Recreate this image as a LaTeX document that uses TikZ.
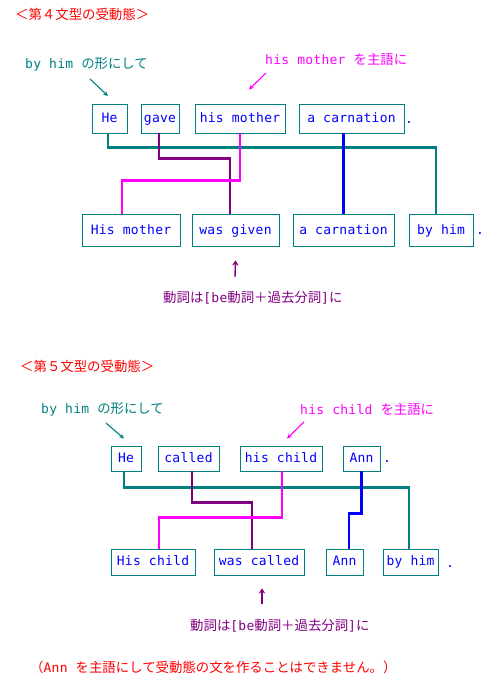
\documentclass[tikz,border=0pt]{standalone}
\usepackage{fontspec}
\usepackage{tikz}
\usetikzlibrary{arrows.meta}
\newfontfamily\jpfont{Noto Sans CJK JP}
\newfontfamily\boxfont[LetterSpace=2]{DejaVu Sans Mono}
\newcommand\hw[1]{{\boxfont\fontsize{13}{15}\selectfont #1}}
\definecolor{tealc}{HTML}{008080}
\definecolor{wblue}{HTML}{0000FF}
\definecolor{mag}{HTML}{FF00FF}
\definecolor{purp}{HTML}{800080}
\definecolor{redc}{HTML}{FF0000}
\tikzset{
  word/.style={draw=tealc, line width=0.9pt, text=wblue, inner sep=0pt,
    text height=9.8pt, text depth=2.6pt, font=\boxfont\fontsize{13}{15}\selectfont},
  lab/.style={anchor=west, inner sep=0pt, font=\jpfont\fontsize{13.4}{16}\selectfont},
  stop/.style={anchor=base west, inner sep=0pt, text=wblue, font=\boxfont\fontsize{13}{15}\selectfont},
  link/.style={line width=2.2pt},
  hint/.style={line width=1.1pt, -{Stealth[length=5pt,width=4.5pt]}},
  up/.style={line width=1.4pt, -{Stealth[length=5pt,width=6.5pt]}},
}

\begin{document}
\begin{tikzpicture}[x=1pt,y=-1pt]
  \useasboundingbox (0,0) rectangle (500,680);

  % fourth pattern
  \node[lab, text=redc] (title1) at (15,14) {＜第４文型の受動態＞};
  \node[lab, text=tealc] (by1) at (25,64) {\hw{by him }の形にして};
  \node[lab, text=mag] (subj1) at (265,59) {\hw{his mother }を主語に};

  \node[word, minimum width=35pt, minimum height=29pt] (he1) at (109.5,118.5) {He};
  \node[word, minimum width=38pt, minimum height=29pt] (gave1) at (160,118.5) {gave};
  \node[word, minimum width=90pt, minimum height=29pt] (mother1) at (240,118.5) {his mother};
  \node[word, minimum width=105pt, minimum height=29pt] (carn1) at (351.5,118.5) {a carnation};
  \node[stop] (dot1) at (405,123) {.};

  \node[word, minimum width=98pt, minimum height=32pt] (mother2) at (131,230.5) {His mother};
  \node[word, minimum width=87pt, minimum height=32pt] (given) at (235.5,230.5) {was given};
  \node[word, minimum width=101pt, minimum height=32pt] (carn2) at (343.5,230.5) {a carnation};
  \node[word, minimum width=64pt, minimum height=32pt] (byhim1) at (441,230.5) {by him};
  \node[stop] (dot2) at (476,234) {.};

  \draw[link, tealc] ([xshift=-1.5pt]he1.south) -- ++(0,14) -| ([xshift=-5pt]byhim1.north);
  \draw[link, purp] ([xshift=-1pt]gave1.south) -- ++(0,25) -| ([xshift=-5.5pt]given.north);
  \draw[link, mag] (mother1.south) -- ++(0,47) -| ([xshift=-9pt]mother2.north);
  \draw[link, wblue] (carn2.north |- carn1.south) -- (carn2.north);

  \coordinate (tail1) at (90,79);
  \coordinate (tail2) at (266,73);
  \coordinate (tail3) at (235,277);
  \draw[hint, tealc] (tail1) -- ([shift={(-1.5,-7.5)}]he1.north);
  \draw[hint, mag] (tail2) -- ([shift={(9,-14)}]mother1.north);
  \draw[up, purp] (tail3) -- ([yshift=-13.5pt]given.south);
  \node[lab, text=purp] (verb1) at (163,298) {動詞は\hw{[be}動詞＋過去分詞\hw{]}に};

  % fifth pattern
  \node[lab, text=redc] (title2) at (20,366) {＜第５文型の受動態＞};
  \node[lab, text=tealc] (by2) at (41,409) {\hw{by him }の形にして};
  \node[lab, text=mag] (subj2) at (300,409) {\hw{his child }を主語に};

  \node[word, minimum width=30pt, minimum height=25pt] (he2) at (126,458.5) {He};
  \node[word, minimum width=61pt, minimum height=25pt] (called) at (188.5,458.5) {called};
  \node[word, minimum width=82pt, minimum height=25pt] (child1) at (281,458.5) {his child};
  \node[word, minimum width=37pt, minimum height=25pt] (ann1) at (361.5,458.5) {Ann};
  \node[stop] (dot3) at (383,462) {.};

  \node[word, minimum width=84pt, minimum height=26pt] (child2) at (153,562) {His child};
  \node[word, minimum width=90pt, minimum height=26pt] (wascalled) at (259,562) {was called};
  \node[word, minimum width=37pt, minimum height=26pt] (ann2) at (344.5,562) {Ann};
  \node[word, minimum width=55pt, minimum height=26pt] (byhim2) at (410.5,562) {by him};
  \node[stop] (dot4) at (446,567) {.};

  \draw[link, tealc] ([xshift=-2pt]he2.south) -- ++(0,16) -| ([xshift=-1.5pt]byhim2.north);
  \draw[link, purp] ([xshift=3.5pt]called.south) -- ++(0,31) -| ([xshift=-7pt]wascalled.north);
  \draw[link, mag] ([xshift=1pt]child1.south) -- ++(0,46) -| ([xshift=6pt]child2.north);
  \draw[link, wblue] (ann1.south) -- ++(0,42) -| ([xshift=4.5pt]ann2.north);

  \coordinate (tail4) at (106,423);
  \coordinate (tail5) at (304,422);
  \coordinate (tail6) at (262,604);
  \draw[hint, tealc] (tail4) -- ([shift={(-2,-7)}]he2.north);
  \draw[hint, mag] (tail5) -- ([shift={(6,-7)}]child1.north);
  \draw[up, purp] (tail6) -- ([shift={(3,13)}]wascalled.south);
  \node[lab, text=purp] (verb2) at (190,626) {動詞は\hw{[be}動詞＋過去分詞\hw{]}に};

  \node[lab, text=redc] (note) at (30,667) {（\hw{Ann }を主語にして受動態の文を作ることはできません。）};
\end{tikzpicture}
\end{document}
